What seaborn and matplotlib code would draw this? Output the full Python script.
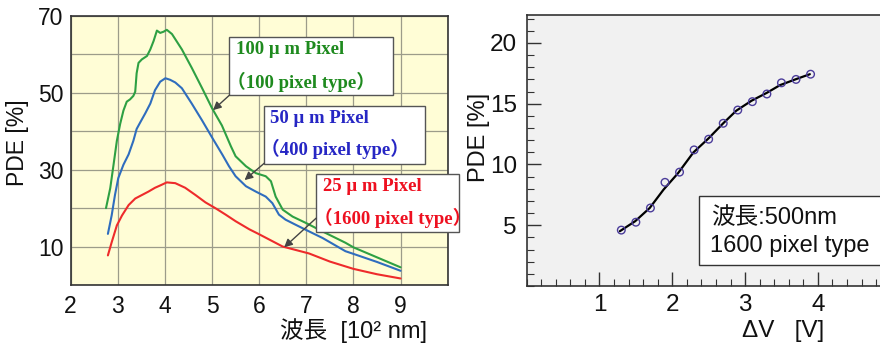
import matplotlib
matplotlib.use("Agg")
import matplotlib.pyplot as plt
from matplotlib.patches import Rectangle
from matplotlib.ticker import MultipleLocator
import numpy as np
import pandas as pd
import seaborn as sns

# ---- spectral PDE curves (wavelength in 100 nm units) ----
wl_100um = [2.75, 2.84, 2.91, 2.98, 3.05, 3.12, 3.19, 3.26, 3.33, 3.37, 3.40, 3.44, 3.51,
            3.62, 3.69, 3.76, 3.83, 3.90, 3.97, 4.04, 4.15, 4.36, 4.57, 4.79, 5.0, 5.21,
            5.40, 5.50, 5.72, 5.93, 6.14, 6.25, 6.35, 6.50, 6.71, 7.0, 7.35, 7.83, 8.0,
            8.5, 9.0]
pde_100um = [20.0, 25.2, 31.3, 37.5, 41.9, 45.4, 47.7, 48.3, 49.2, 50.3, 55.1, 57.8, 58.7,
             59.6, 61.3, 63.5, 66.2, 65.6, 65.9, 66.4, 65.3, 61.3, 56.5, 51.2, 46.0, 41.5,
             36.1, 33.5, 30.9, 29.1, 28.3, 27.0, 23.0, 19.6, 17.8, 16.1, 13.9, 11.0, 9.8,
             7.2, 4.6]

wl_50um = [2.79, 2.87, 2.94, 3.01, 3.12, 3.23, 3.33, 3.40, 3.48, 3.58, 3.69, 3.79, 3.90,
           4.01, 4.11, 4.22, 4.36, 4.57, 4.79, 5.0, 5.22, 5.36, 5.50, 5.72, 5.93, 6.14,
           6.28, 6.42, 6.56, 6.77, 7.0, 7.35, 7.83, 8.0, 8.5, 9.0]
pde_50um = [13.3, 18.1, 23.4, 27.8, 31.3, 34.0, 37.5, 40.6, 42.4, 44.6, 47.2, 50.7, 52.9,
            53.8, 53.4, 52.7, 51.2, 47.2, 42.8, 38.4, 33.9, 30.9, 28.3, 25.7, 24.3, 23.0,
            21.3, 18.3, 17.0, 15.7, 14.3, 12.2, 8.8, 8.1, 6.0, 3.7]

wl_25um = [2.79, 2.87, 2.98, 3.09, 3.23, 3.37, 3.51, 3.65, 3.79, 3.90, 4.04, 4.22, 4.43,
           4.65, 4.86, 5.07, 5.29, 5.50, 5.79, 6.0, 6.5, 7.06, 7.5, 8.0, 8.5, 9.0]
pde_25um = [7.7, 11.1, 15.5, 18.1, 20.8, 22.5, 23.4, 24.3, 25.3, 25.9, 26.7, 26.5, 25.3,
            23.4, 21.5, 20.0, 18.3, 16.6, 14.5, 13.2, 10.0, 8.2, 6.1, 4.2, 2.8, 1.7]

series_labels = ["100 μ m Pixel", "50 μ m Pixel", "25 μ m Pixel"]
series_types = ["（100 pixel type）", "（400 pixel type）", "（1600 pixel type）"]
wl_ticks = [2, 3, 4, 5, 6, 7, 8, 9]
pde_ticks = [10, 30, 50, 70]

# ---- PDE vs over-voltage (1600 pixel type, 500 nm) ----
dv_meas = [1.3, 1.5, 1.7, 1.9, 2.1, 2.3, 2.5, 2.7, 2.9, 3.1, 3.3, 3.5, 3.7, 3.9]
pde_meas = [4.6, 5.25, 6.42, 8.53, 9.37, 11.2, 12.08, 13.39, 14.48, 15.17, 15.8, 16.72,
            17.0, 17.43]
dv_fit = [1.28, 1.49, 1.69, 1.88, 2.08, 2.29, 2.50, 2.70, 2.88, 3.09, 3.30, 3.48, 3.69, 3.89]
pde_fit = [4.51, 5.33, 6.42, 7.93, 9.29, 10.99, 12.16, 13.39, 14.43, 15.25, 15.90, 16.53,
           17.0, 17.43]
dv_ticks = [1, 2, 3, 4]
pde2_ticks = [5, 10, 15, 20]

sns.set_theme(style="white")
plt.rcParams["font.family"] = ["Liberation Sans", "Noto Sans CJK JP", "DejaVu Sans"]

fig = plt.figure(figsize=(8.8, 3.46), dpi=100)
fig.patch.set_facecolor("white")

# ================= left panel =================
ax = fig.add_axes([0.0803, 0.1763, 0.4284, 0.7775])
ax.set_facecolor("#FFFDD6")

curve_df = pd.concat([
    pd.DataFrame({"wl": wl_100um, "pde": pde_100um, "s": series_labels[0]}),
    pd.DataFrame({"wl": wl_50um, "pde": pde_50um, "s": series_labels[1]}),
    pd.DataFrame({"wl": wl_25um, "pde": pde_25um, "s": series_labels[2]}),
], ignore_index=True)
line_colors = ["#2EA043", "#2F6DBE", "#EE2B2B"]
text_colors = ["#1E8A1E", "#2626C4", "#EE1020"]
sns.lineplot(data=curve_df, x="wl", y="pde", hue="s", palette=line_colors,
             sort=False, estimator=None, linewidth=1.5, legend=False, ax=ax, zorder=3)

ax.set_xlim(2, 10)
ax.set_ylim(0, 70)
ax.set_xticks(wl_ticks)
ax.set_xticklabels([str(t) for t in wl_ticks])
ax.xaxis.set_minor_locator(MultipleLocator(1))
ax.set_yticks(pde_ticks)
ax.set_yticklabels([str(t) for t in pde_ticks])
ax.yaxis.set_minor_locator(MultipleLocator(10))
ax.grid(True, which="both", color="#9C9C8A", linewidth=0.9)
ax.tick_params(which="both", length=0, labelsize=16.5, colors="#111111")
ax.tick_params(axis="x", pad=7)
ax.tick_params(axis="y", pad=5)
for sp in ax.spines.values():
    sp.set_color("#333333")
    sp.set_linewidth(1.2)
ax.set_xlabel("波長  [10² nm]", fontsize=17, color="#111111")
ax.xaxis.set_label_coords(0.75, -0.125)
ax.set_ylabel("PDE [%]", fontsize=16.5, color="#111111")
ax.yaxis.set_label_coords(-0.11, 0.53)

# annotation boxes: (x0, y0, x1, y1) in data units, text anchor, arrow start, arrow tip
boxes = [
    ((5.37, 49.4, 8.84, 64.5), (5.51, 61.2, 52.9), (5.37, 49.4), (5.02, 45.5)),
    ((6.11, 31.5, 9.52, 46.6), (6.24, 43.4, 35.3), (6.11, 31.7), (5.69, 27.3)),
    ((7.21, 13.9, 10.25, 28.8), (7.36, 25.6, 17.4), (7.21, 17.4), (6.53, 9.8)),
]
serif = ["Liberation Serif", "Noto Sans CJK JP"]
for i, (rect, txt, a0, a1) in enumerate(boxes):
    x0, y0, x1, y1 = rect
    ax.add_patch(Rectangle((x0, y0), x1 - x0, y1 - y0, facecolor="white",
                           edgecolor="#555555", linewidth=1.0, clip_on=False, zorder=5))
    ax.text(txt[0], txt[1], series_labels[i], color=text_colors[i],
            fontsize=13.5, fontweight="bold", family=serif, va="center", ha="left",
            zorder=6, clip_on=False)
    # the full-width bracket carries its own left bearing, so start it a little earlier
    ax.text(txt[0] - 0.2, txt[2], series_types[i], color=text_colors[i],
            fontsize=13.5, fontweight="bold", family=serif, va="center", ha="left",
            zorder=6, clip_on=False)
    ax.annotate("", xy=a1, xytext=a0,
                arrowprops=dict(arrowstyle="-|>", color="#444444", lw=1.0,
                                mutation_scale=12, shrinkA=0, shrinkB=0),
                zorder=6, annotation_clip=False)

# ================= right panel =================
ax2 = fig.add_axes([0.5985, 0.1734, 0.4136, 0.7832])
ax2.set_facecolor("#F1F1F1")

fit_df = pd.DataFrame({"dv": dv_fit, "pde": pde_fit})
meas_df = pd.DataFrame({"dv": dv_meas, "pde": pde_meas})
sns.lineplot(data=fit_df, x="dv", y="pde", color="black", linewidth=1.6,
             sort=False, estimator=None, ax=ax2, zorder=3)
sns.scatterplot(data=meas_df, x="dv", y="pde", marker="o", s=30,
                facecolor="none", edgecolor="#4B3C9A", linewidth=1.0, ax=ax2, zorder=4)

ax2.set_xlim(0, 5)
ax2.set_ylim(0, 22.3)
ax2.set_xticks(dv_ticks)
ax2.set_xticklabels([str(t) for t in dv_ticks])
ax2.xaxis.set_minor_locator(MultipleLocator(0.2))
ax2.set_yticks(pde2_ticks)
ax2.set_yticklabels([str(t) for t in pde2_ticks])
ax2.yaxis.set_minor_locator(MultipleLocator(1))
ax2.tick_params(which="both", direction="in", colors="#333333", labelcolor="#111111",
                labelsize=17.5)
ax2.tick_params(which="major", length=10, width=1.0)
ax2.tick_params(which="minor", length=5, width=0.8)
ax2.tick_params(axis="y", pad=7)
ax2.tick_params(axis="x", pad=6)
ax2.tick_params(axis="x", which="both", bottom=True, top=False)
ax2.tick_params(axis="y", which="both", left=True, right=False)
for sp in ax2.spines.values():
    sp.set_color("#333333")
    sp.set_linewidth(1.2)
ax2.set_xlabel("ΔV   [V]", fontsize=17.5, color="#111111")
ax2.xaxis.set_label_coords(0.704, -0.125)
ax2.set_ylabel("PDE [%]", fontsize=17, color="#111111")
ax2.yaxis.set_label_coords(-0.10, 0.55)

ax2.add_patch(Rectangle((2.37, 1.72), 3.5, 7.38 - 1.72, facecolor="white",
                        edgecolor="#333333", linewidth=1.0, clip_on=False, zorder=5))
ax2.text(2.53, 5.6, "波長:500nm", fontsize=17, color="#111111", va="center",
         ha="left", zorder=6)
ax2.text(2.52, 3.28, "1600 pixel type", fontsize=17, color="#111111", va="center",
         ha="left", zorder=6)

fig.savefig("out.png", dpi=100)
